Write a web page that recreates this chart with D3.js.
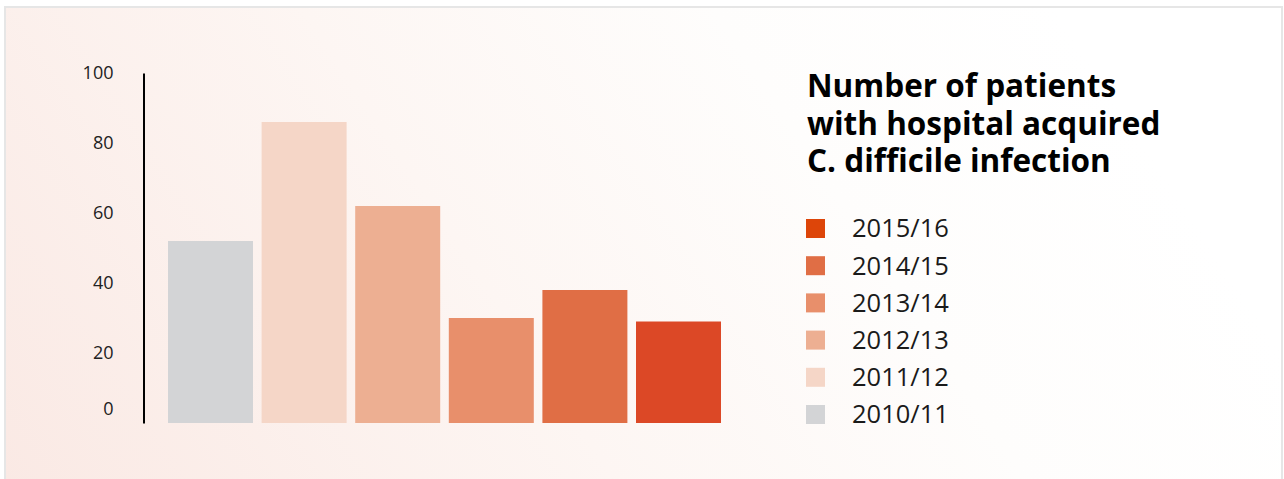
<!DOCTYPE html>
<html>
<head>
<meta charset="utf-8">
<script src="https://cdn.jsdelivr.net/npm/d3@7"></script>
<style>
  html, body { margin: 0; padding: 0; background: #ffffff; }
  svg { display: block; }
  text { font-family: "Open Sans", "Noto Sans", sans-serif; }
</style>
</head>
<body>
<svg id="chart" width="1284" height="479"></svg>
<script>
const categories = ["2010/11", "2011/12", "2012/13", "2013/14", "2014/15", "2015/16"];
const values = [52, 86, 62, 30, 38, 29];
const barColors = ["#d3d4d6", "#f5d6c7", "#edaf92", "#e88f6b", "#e06e45", "#dc4826"];
const legendColors = ["#d3d4d6", "#f5d6c7", "#edaf92", "#e88f6b", "#e06e45", "#dd4509"];
const tickValues = [0, 20, 40, 60, 80, 100];
const titleLines = ["Number of patients", "with hospital acquired", "C. difficile infection"];

const svg = d3.select("#chart");

// background card with gradient
const defs = svg.append("defs");
const grad = defs.append("linearGradient")
  .attr("id", "bg").attr("gradientUnits", "userSpaceOnUse")
  .attr("x1", 0).attr("y1", 479).attr("x2", 950).attr("y2", -150);
grad.append("stop").attr("offset", "0%").attr("stop-color", "#fae9e4");
grad.append("stop").attr("offset", "45%").attr("stop-color", "#fdf6f3");
grad.append("stop").attr("offset", "75%").attr("stop-color", "#fefdfc");
grad.append("stop").attr("offset", "100%").attr("stop-color", "#ffffff");

svg.append("rect").attr("x", 5).attr("y", 7).attr("width", 1277).attr("height", 500)
  .attr("fill", "url(#bg)").attr("stroke", "#e6e6e6").attr("stroke-width", 2);

// scales
const x = d3.scaleBand().domain(categories).range([163.7, 725.3])
  .paddingInner(0.092).paddingOuter(0.046);
const y = d3.scaleLinear().domain([0, 100]).range([423, 73]);

// bars
svg.append("g").selectAll("rect").data(categories).join("rect")
  .attr("x", d => x(d))
  .attr("y", (d, i) => y(values[i]))
  .attr("width", x.bandwidth())
  .attr("height", (d, i) => y(0) - y(values[i]))
  .attr("fill", (d, i) => barColors[i]);

// axis
const axis = d3.axisLeft(y).tickValues(tickValues).tickSize(0).tickSizeOuter(0).tickPadding(30);
const ag = svg.append("g").attr("transform", "translate(143.5,0)").call(axis);
ag.select(".domain").attr("stroke", "#000").attr("stroke-width", 2);
ag.selectAll(".tick text")
  .attr("font-family", '"Open Sans", sans-serif')
  .attr("font-size", 18).attr("fill", "#222");
ag.selectAll(".tick").filter(d => d === 0).select("text").attr("y", -14.5);

// title
svg.append("g").selectAll("text").data(titleLines).join("text")
  .attr("x", 807).attr("y", (d, i) => 97 + i * 37.5)
  .attr("font-size", 31.5).attr("font-weight", 700).attr("fill", "#000")
  .text(d => d);

// legend (reverse order)
const legendOrder = categories.map((c, i) => i).reverse();
const lg = svg.append("g").selectAll("g").data(legendOrder).join("g")
  .attr("transform", (d, k) => `translate(806,${219 + k * 37.2})`);
lg.append("rect").attr("width", 19).attr("height", 19).attr("fill", d => legendColors[d]);
lg.append("text").attr("x", 46).attr("y", 18.3)
  .attr("font-size", 25.5).attr("fill", "#1a1a1a")
  .text(d => categories[d]);
</script>
</body>
</html>
